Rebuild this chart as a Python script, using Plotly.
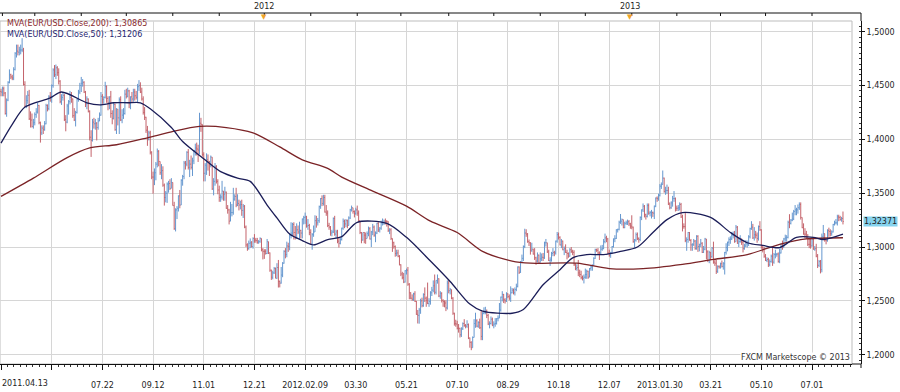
import plotly.graph_objects as go

# ---------------- DATA (EUR/USD daily, prices in pips above 1.0000) ----------------
close_pips = [
    # 2011 Apr (from 04.13)
    4440, 4470, 4430, 4240, 4365, 4530, 4600, 4580, 4570, 4650, 4800, 4820, 4810,
    # 2011 May
    4830, 4830, 4830, 4510, 4310, 4360, 4410, 4190, 4180, 4120, 4155, 4230, 4255, 4315, 4155, 4060, 4105, 4090, 4145, 4315, 4285, 4400,
    # 2011 Jun
    4395, 4500, 4645, 4600, 4665, 4620, 4540, 4350, 4390, 4410, 4185, 4160, 4310, 4350, 4390, 4375, 4220, 4180, 4250, 4370, 4440, 4500,
    # 2011 Jul
    4520, 4530, 4440, 4330, 4375, 4260, 4020, 3990, 4160, 4145, 4150, 4110, 4170, 4225, 4400, 4370, 4390, 4495, 4380, 4340, 4395,
    # 2011 Aug
    4240, 4195, 4325, 4090, 4280, 4200, 4370, 4180, 4225, 4240, 4420, 4400, 4450, 4330, 4395, 4375, 4440, 4405, 4390, 4490, 4500, 4440, 4375,
    # 2011 Sep
    4250, 4205, 4085, 4000, 4060, 3880, 3650, 3650, 3690, 3770, 3890, 3795, 3690, 3710, 3575, 3460, 3500, 3585, 3590, 3545, 3600, 3385,
    # 2011 Oct
    3170, 3345, 3360, 3475, 3390, 3620, 3655, 3780, 3770, 3880, 3740, 3770, 3740, 3800, 3895, 3920, 3910, 3900, 4150, 4140, 3860,
    # 2011 Nov
    3685, 3760, 3810, 3790, 3765, 3835, 3540, 3610, 3750, 3610, 3530, 3460, 3465, 3520, 3490, 3510, 3360, 3345, 3240, 3320, 3320, 3445,
    # 2011 Dec
    3470, 3390, 3405, 3390, 3395, 3340, 3380, 3185, 3020, 2985, 3035, 3040, 3005, 3080, 3065, 3060, 3045, 3050, 3080, 2975, 2960, 2960,
    # 2012 Jan
    2940, 3050, 2945, 2785, 2720, 2760, 2800, 2710, 2810, 2680, 2665, 2740, 2850, 2960, 2930, 3010, 3005, 3110, 3130, 3210, 3135, 3085,
    # 2012 Feb
    3160, 3140, 3155, 3130, 3260, 3275, 3280, 3195, 3200, 3135, 3030, 3115, 3140, 3245, 3225, 3245, 3375, 3450, 3405, 3460, 3325,
    # 2012 Mar
    3315, 3200, 3185, 3130, 3140, 3265, 3120, 3140, 3055, 3035, 3070, 3175, 3240, 3215, 3245, 3200, 3270, 3345, 3365, 3330, 3310, 3345,
    # 2012 Apr
    3315, 3245, 3135, 3065, 3135, 3110, 3080, 3125, 3170, 3075, 3140, 3185, 3110, 3130, 3220, 3160, 3175, 3225, 3230, 3240, 3235,
    # 2012 May
    3235, 3155, 3160, 3080, 3040, 3005, 2940, 2945, 2915, 2835, 2750, 2715, 2675, 2780, 2785, 2655, 2575, 2525, 2515, 2565, 2495, 2375, 2365,
    # 2012 Jun
    2415, 2500, 2455, 2560, 2525, 2505, 2475, 2495, 2575, 2600, 2640, 2580, 2690, 2705, 2545, 2570, 2505, 2495, 2480, 2435, 2665,
    # 2012 Jul
    2595, 2605, 2525, 2385, 2290, 2285, 2245, 2245, 2185, 2240, 2290, 2270, 2265, 2280, 2155, 2115, 2065, 2160, 2290, 2315, 2265, 2300,
    # 2012 Aug
    2250, 2170, 2385, 2400, 2405, 2365, 2285, 2290, 2330, 2275, 2285, 2290, 2335, 2340, 2415, 2535, 2560, 2510, 2500, 2565, 2540, 2525, 2575,
    # 2012 Sep
    2600, 2575, 2605, 2635, 2815, 2765, 2860, 2895, 3005, 3130, 3120, 3050, 3040, 2970, 2980, 2935, 2900, 2870, 2925, 2855,
    # 2012 Oct
    2890, 2905, 2900, 3040, 3040, 2955, 2875, 2880, 2940, 2950, 2945, 3055, 3115, 3090, 3020, 3055, 2975, 2985, 2950, 2940, 2915, 2975, 2960,
    # 2012 Nov
    2950, 2835, 2800, 2810, 2760, 2745, 2715, 2710, 2720, 2745, 2775, 2720, 2800, 2815, 2830, 2895, 2975, 2970, 2945, 2945, 2980, 2985,
    # 2012 Dec
    3050, 3085, 3075, 2945, 2925, 2945, 3005, 3075, 3080, 3160, 3165, 3230, 3240, 3255, 3180, 3220, 3225, 3235, 3215, 3195,
    # 2013 Jan
    3185, 3050, 3065, 3115, 3080, 3070, 3275, 3345, 3380, 3300, 3285, 3385, 3315, 3320, 3320, 3315, 3380, 3455, 3450, 3480, 3565, 3580,
    # 2013 Feb
    3640, 3515, 3525, 3525, 3400, 3365, 3410, 3450, 3450, 3360, 3360, 3365, 3395, 3280, 3190, 3190, 3060, 3070, 3135, 3060,
    # 2013 Mar
    3020, 3025, 3055, 2985, 3100, 3005, 3025, 3035, 2950, 2980, 3075, 2955, 2875, 2950, 2910, 2990, 2860, 2850, 2775, 2820, 2815,
    # 2013 Apr
    2845, 2820, 2845, 2950, 2995, 3045, 3070, 3075, 3110, 3110, 3050, 3185, 3035, 3050, 3055, 3045, 2985, 3010, 3030, 3030, 3095, 3170,
    # 2013 May
    3185, 3085, 3115, 3110, 3080, 3190, 3160, 2995, 2975, 2915, 2875, 2885, 2835, 2865, 2915, 2860, 2930, 2930, 2935, 2865, 2945, 3005, 2995,
    # 2013 Jun
    3075, 3085, 3090, 3230, 3220, 3250, 3260, 3330, 3345, 3345, 3365, 3395, 3275, 3180, 3120, 3120, 3090, 3025, 3025, 3010,
    # 2013 Jul
    3075, 2980, 2985, 2915, 2830, 2865, 2790, 3100, 3125, 3065, 3060, 3155, 3145, 3125, 3140, 3210, 3225, 3225, 3280, 3275, 3255, 3265, 3237,
]

high_pips = [
    4470, 4490, 4490, 4440, 4380, 4540, 4650, 4610, 4600, 4670, 4810, 4880, 4880,
    4860, 4880, 4940, 4850, 4540, 4410, 4450, 4460, 4260, 4240, 4190, 4250, 4290, 4340, 4320, 4165, 4130, 4130, 4170, 4330, 4325, 4410,
    4440, 4510, 4660, 4690, 4695, 4680, 4660, 4550, 4420, 4440, 4420, 4225, 4330, 4365, 4450, 4440, 4380, 4290, 4265, 4380, 4460, 4525,
    4580, 4560, 4540, 4450, 4400, 4380, 4270, 4085, 4190, 4200, 4190, 4160, 4200, 4250, 4440, 4420, 4400, 4535, 4500, 4400, 4400,
    4450, 4270, 4340, 4330, 4290, 4260, 4390, 4400, 4280, 4290, 4460, 4470, 4480, 4460, 4400, 4440, 4470, 4470, 4450, 4515, 4550, 4530, 4480,
    4400, 4300, 4210, 4125, 4080, 4080, 3890, 3700, 3730, 3790, 3915, 3900, 3795, 3770, 3750, 3590, 3520, 3600, 3615, 3630, 3640, 3600,
    3420, 3360, 3380, 3480, 3530, 3630, 3670, 3800, 3800, 3890, 3910, 3810, 3850, 3830, 3900, 3960, 3970, 3950, 4247, 4200, 4140,
    3880, 3780, 3870, 3860, 3800, 3850, 3820, 3640, 3780, 3760, 3630, 3570, 3490, 3615, 3520, 3560, 3515, 3390, 3355, 3420, 3400, 3550,
    3490, 3550, 3490, 3440, 3430, 3440, 3400, 3390, 3200, 3035, 3060, 3080, 3055, 3090, 3120, 3085, 3085, 3065, 3090, 3080, 2990, 2980,
    2980, 3075, 3050, 2950, 2790, 2780, 2815, 2810, 2850, 2880, 2690, 2815, 2860, 2970, 2990, 3050, 3040, 3130, 3230, 3225, 3230, 3195,
    3220, 3200, 3235, 3160, 3265, 3290, 3320, 3290, 3260, 3215, 3165, 3130, 3200, 3295, 3290, 3270, 3385, 3455, 3480, 3485, 3485,
    3390, 3340, 3225, 3195, 3160, 3275, 3290, 3160, 3160, 3090, 3090, 3180, 3265, 3255, 3260, 3255, 3285, 3355, 3385, 3360, 3340, 3365,
    3385, 3340, 3245, 3140, 3135, 3140, 3135, 3145, 3190, 3185, 3150, 3215, 3200, 3145, 3225, 3230, 3185, 3245, 3265, 3255, 3265,
    3250, 3240, 3175, 3175, 3075, 3050, 3015, 2975, 2975, 2925, 2840, 2770, 2760, 2785, 2800, 2815, 2665, 2580, 2560, 2575, 2590, 2500, 2415,
    2435, 2520, 2530, 2570, 2625, 2540, 2670, 2525, 2590, 2630, 2690, 2745, 2690, 2745, 2710, 2590, 2580, 2515, 2505, 2505, 2690,
    2690, 2620, 2605, 2535, 2390, 2325, 2315, 2285, 2250, 2255, 2300, 2330, 2285, 2320, 2290, 2160, 2125, 2170, 2330, 2390, 2330, 2310,
    2335, 2405, 2395, 2440, 2445, 2420, 2380, 2310, 2355, 2345, 2310, 2340, 2340, 2365, 2480, 2540, 2590, 2565, 2525, 2580, 2570, 2560, 2635,
    2620, 2615, 2625, 2660, 2820, 2820, 2870, 2930, 3015, 3170, 3165, 3130, 3070, 3045, 3040, 2985, 2990, 2910, 2950, 2930,
    2950, 2940, 2945, 3050, 3075, 3020, 2975, 2905, 2955, 2990, 2965, 3060, 3140, 3135, 3100, 3075, 3060, 3005, 3025, 2975, 2950, 2990, 3000,
    2975, 2970, 2850, 2840, 2880, 2790, 2780, 2735, 2745, 2800, 2790, 2780, 2805, 2830, 2840, 2905, 2985, 2985, 2990, 2960, 3015, 3020,
    3075, 3125, 3105, 3085, 2975, 2955, 3010, 3080, 3110, 3165, 3170, 3245, 3307, 3265, 3255, 3235, 3245, 3255, 3250, 3225,
    3295, 3190, 3075, 3135, 3135, 3090, 3285, 3350, 3405, 3390, 3310, 3405, 3405, 3335, 3345, 3330, 3385, 3460, 3470, 3495, 3585, 3600,
    3711, 3645, 3560, 3580, 3560, 3415, 3425, 3475, 3520, 3460, 3385, 3390, 3415, 3410, 3300, 3220, 3320, 3090, 3140, 3140,
    3075, 3035, 3075, 3065, 3110, 3110, 3030, 3075, 3045, 3010, 3085, 3010, 2970, 2965, 2955, 3000, 3050, 2885, 2880, 2830, 2830,
    2855, 2875, 2860, 2955, 3035, 3050, 3090, 3100, 3140, 3145, 3150, 3205, 3195, 3085, 3110, 3080, 3055, 3030, 3065, 3060, 3110, 3180,
    3240, 3215, 3185, 3150, 3135, 3200, 3240, 3165, 3015, 3000, 2935, 2905, 2900, 2885, 2930, 2995, 2945, 2975, 2945, 2950, 2985, 3035, 3060,
    3085, 3115, 3110, 3245, 3305, 3260, 3320, 3345, 3390, 3365, 3395, 3415, 3415, 3275, 3220, 3175, 3150, 3120, 3075, 3080,
    3085, 3080, 3010, 3030, 2935, 2880, 2880, 3125, 3205, 3120, 3075, 3165, 3180, 3165, 3155, 3215, 3245, 3260, 3300, 3300, 3290, 3280, 3330,
]

low_pips = [
    4400, 4400, 4400, 4230, 4210, 4355, 4520, 4560, 4550, 4550, 4640, 4760, 4780,
    4780, 4790, 4810, 4500, 4300, 4290, 4330, 4180, 4110, 4110, 4100, 4130, 4200, 4240, 4140, 3970, 4040, 4050, 4080, 4140, 4260, 4270,
    4350, 4340, 4480, 4580, 4560, 4590, 4510, 4335, 4320, 4360, 4170, 4075, 4150, 4230, 4325, 4340, 4200, 4170, 4120, 4240, 4350, 4420,
    4440, 4490, 4430, 4300, 4280, 4250, 3990, 3837, 3980, 4100, 4090, 3990, 4090, 4170, 4220, 4330, 4330, 4380, 4340, 4270, 4280,
    4200, 4140, 4185, 4080, 4050, 4130, 4050, 4170, 4150, 4190, 4230, 4380, 4390, 4290, 4280, 4340, 4350, 4360, 4370, 4340, 4450, 4430, 4360,
    4230, 4180, 4060, 3940, 3990, 3860, 3630, 3495, 3575, 3620, 3740, 3750, 3670, 3630, 3560, 3385, 3415, 3410, 3505, 3530, 3555, 3385,
    3160, 3145, 3260, 3330, 3360, 3410, 3570, 3630, 3720, 3750, 3720, 3650, 3720, 3660, 3770, 3850, 3850, 3790, 3860, 4070, 3840,
    3610, 3610, 3670, 3710, 3660, 3740, 3530, 3480, 3570, 3590, 3490, 3420, 3420, 3440, 3430, 3430, 3355, 3310, 3210, 3290, 3285, 3300,
    3430, 3370, 3380, 3340, 3350, 3290, 3270, 3175, 3000, 2965, 2975, 2990, 2995, 2985, 3040, 3040, 3030, 3030, 3040, 2960, 2885, 2890,
    2930, 2935, 2935, 2770, 2695, 2700, 2750, 2710, 2705, 2624, 2625, 2660, 2720, 2845, 2895, 2905, 2955, 2970, 3080, 3105, 3070, 3070,
    3075, 3120, 3070, 3080, 3080, 3210, 3215, 3180, 3160, 3110, 3020, 2975, 3095, 3140, 3180, 3200, 3225, 3355, 3380, 3385, 3320,
    3290, 3185, 3160, 3105, 3100, 3130, 3105, 3080, 3035, 2995, 3025, 3060, 3160, 3175, 3185, 3175, 3200, 3260, 3330, 3310, 3275, 3300,
    3290, 3230, 3120, 3035, 3060, 3035, 3030, 3080, 3100, 3070, 3000, 3110, 3095, 3045, 3120, 3140, 3135, 3160, 3200, 3205, 3210,
    3190, 3140, 3120, 3065, 2955, 2985, 2910, 2915, 2905, 2830, 2730, 2700, 2665, 2670, 2745, 2640, 2515, 2515, 2500, 2500, 2490, 2370, 2290,
    2288, 2380, 2440, 2445, 2490, 2445, 2470, 2445, 2465, 2545, 2580, 2560, 2560, 2660, 2535, 2520, 2485, 2445, 2440, 2405, 2420,
    2570, 2560, 2515, 2370, 2270, 2260, 2235, 2205, 2160, 2165, 2230, 2260, 2245, 2250, 2145, 2065, 2042, 2065, 2160, 2250, 2255, 2250,
    2240, 2135, 2135, 2375, 2375, 2340, 2275, 2245, 2280, 2265, 2245, 2260, 2280, 2310, 2340, 2400, 2495, 2480, 2475, 2490, 2525, 2505, 2490,
    2570, 2560, 2550, 2590, 2625, 2750, 2760, 2850, 2870, 2990, 3095, 3040, 3010, 2930, 2955, 2930, 2880, 2835, 2855, 2845,
    2860, 2870, 2870, 2890, 3005, 2945, 2870, 2825, 2865, 2915, 2915, 2930, 3040, 3070, 3015, 2990, 2970, 2925, 2945, 2885, 2900, 2910, 2945,
    2925, 2825, 2785, 2780, 2730, 2720, 2700, 2690, 2662, 2705, 2705, 2705, 2730, 2780, 2780, 2825, 2890, 2955, 2930, 2880, 2935, 2965,
    2980, 3035, 3045, 2935, 2910, 2900, 2935, 2995, 3045, 3075, 3135, 3155, 3215, 3200, 3175, 3175, 3205, 3205, 3195, 3170,
    3165, 3040, 2995, 3050, 3065, 3040, 3055, 3250, 3325, 3275, 3255, 3275, 3300, 3285, 3265, 3280, 3260, 3370, 3420, 3430, 3470, 3540,
    3580, 3505, 3485, 3495, 3390, 3350, 3355, 3375, 3420, 3330, 3335, 3335, 3340, 3270, 3145, 3170, 3045, 2965, 3040, 3060,
    2965, 2965, 3010, 2975, 2975, 2955, 2960, 3000, 2945, 2945, 2970, 2885, 2860, 2850, 2880, 2900, 2845, 2825, 2750, 2760, 2800,
    2800, 2810, 2790, 2745, 2930, 2960, 3010, 3030, 3065, 3080, 3040, 3050, 3030, 3000, 3040, 3020, 2950, 2975, 3000, 2995, 3010, 3080,
    3160, 3075, 3060, 3080, 3040, 3060, 3150, 2985, 2950, 2900, 2870, 2860, 2815, 2820, 2855, 2825, 2845, 2895, 2910, 2855, 2850, 2940, 2975,
    3000, 3050, 3050, 3080, 3175, 3210, 3240, 3250, 3295, 3295, 3310, 3345, 3255, 3175, 3115, 3080, 3075, 3010, 2990, 2985,
    3005, 2975, 2965, 2905, 2805, 2815, 2755, 2765, 3080, 3050, 3025, 3050, 3095, 3100, 3105, 3135, 3200, 3210, 3200, 3240, 3245, 3235, 3210,
]
first_open_pips = 4445

# Moving averages (bar index -> value)
ma200_bars = [0, 23, 47, 63, 82, 104, 121, 141, 160, 179, 198, 214, 232, 242, 264, 288, 305, 324, 342, 363,
              376, 409, 432, 456, 484, 506, 530, 553, 572, 598]
ma200_vals = [1.347, 1.364, 1.383, 1.392, 1.395, 1.4015, 1.407, 1.412, 1.411, 1.406, 1.393, 1.381, 1.373, 1.365,
              1.352, 1.338, 1.324, 1.3135, 1.296, 1.287, 1.285, 1.285, 1.280, 1.280, 1.284, 1.2885, 1.293, 1.3025,
              1.3075, 1.30865]
ma50_bars = [0, 8, 17, 35, 43, 61, 70, 80, 90, 99, 106, 121, 129, 143, 156, 168, 177, 189, 196, 205, 214, 222,
             232, 242, 253, 274, 288, 305, 319, 333, 342, 363, 371, 385, 397, 406, 416, 428, 440, 452, 463, 473,
             484, 504, 518, 530, 541, 553, 565, 577, 584, 598]
ma50_vals = [1.3965, 1.414, 1.430, 1.4385, 1.444, 1.434, 1.432, 1.434, 1.434, 1.434, 1.4285, 1.411, 1.398, 1.383,
             1.370, 1.364, 1.361, 1.339, 1.327, 1.312, 1.306, 1.302, 1.307, 1.3097, 1.323, 1.322, 1.309, 1.287,
             1.268, 1.247, 1.2405, 1.2385, 1.242, 1.265, 1.279, 1.290, 1.293, 1.293, 1.296, 1.300, 1.3135, 1.3255,
             1.332, 1.3275, 1.3135, 1.304, 1.3015, 1.2995, 1.309, 1.309, 1.307, 1.31206]

# Axis ticks
date_tick_bars = [0, 36, 72, 108, 144, 180, 216, 252, 288, 324, 360, 396, 432, 468, 504, 540, 576]
date_tick_text = ["", "", "07.22", "09.12", "11.01", "12.21", "2012.02.09", "03.30", "05.21", "07.10",
                  "08.29", "10.18", "12.07", "2013.01.30", "03.21", "05.10", "07.01"]
first_date_label = "2011.04.13"
top_tick_bars = [1, 24, 57, 89, 122, 155, 187, 220, 253, 284, 318, 350, 383, 415, 448, 480, 511, 543, 576]
year_marker_bars = [186.5, 446.5]
year_marker_text = ["2012", "2013"]
price_ticks = [1.20, 1.25, 1.30, 1.35, 1.40, 1.45, 1.50]
price_tick_text = ["1,2000", "1,2500", "1,3000", "1,3500", "1,4000", "1,4500", "1,5000"]
last_price = 1.32371
last_price_text = "1,32371"
ma200_label = "MVA(EUR/USD.Close,200): 1,30865"
ma50_label = "MVA(EUR/USD.Close,50): 1,31206"
credit = "FXCM Marketscope © 2013"

# ---------------- BUILD ----------------
bars = list(range(len(close_pips)))
closes = [1 + v / 10000 for v in close_pips]
opens = [1 + first_open_pips / 10000] + closes[:-1]
highs = [max(1 + h / 10000, o, c) for h, o, c in zip(high_pips, opens, closes)]
lows = [min(1 + l / 10000, o, c) for l, o, c in zip(low_pips, opens, closes)]

W, H = 900, 392
M_L, M_R, M_T, M_B = 0, 39, 21, 28
PW = W - M_L - M_R          # 861
PH = H - M_T - M_B          # 343
FRAME_R = 852 / PW


def py(pix_y):
    return (H - M_B - pix_y) / PH


def px(pix_x):
    return (pix_x - M_L) / PW


FONT = "DejaVu Sans"
TXT = "#1e1e1e"

fig = go.Figure()
fig.add_trace(go.Ohlc(
    x=bars, open=opens, high=highs, low=lows, close=closes,
    increasing=dict(line=dict(color="#6597cf", width=1)),
    decreasing=dict(line=dict(color="#c4636b", width=1)),
    tickwidth=0.5, hoverinfo="skip", showlegend=False,
))
fig.add_trace(go.Scatter(
    x=ma200_bars, y=ma200_vals, mode="lines", line=dict(color="#7b2326", width=1.3, shape="spline", smoothing=0.8),
    hoverinfo="skip", showlegend=False,
))
fig.add_trace(go.Scatter(
    x=ma50_bars, y=ma50_vals, mode="lines", line=dict(color="#1b1d58", width=1.3, shape="spline", smoothing=0.8),
    hoverinfo="skip", showlegend=False,
))

x0 = -0.71
x1 = x0 + 852 / 1.408
ymax = 1.50994
ymin = ymax - PH / 1076.7

fig.update_layout(
    template="none",
    width=W, height=H,
    margin=dict(l=M_L, r=M_R, t=M_T, b=M_B, pad=0, autoexpand=False),
    paper_bgcolor="white", plot_bgcolor="white",
    font=dict(family=FONT, size=8, color=TXT),
    showlegend=False,
    hovermode=False,
    xaxis=dict(
        domain=[0, FRAME_R], range=[x0, x1], rangeslider=dict(visible=False), automargin=False,
        tickmode="array", tickvals=date_tick_bars, ticktext=date_tick_text,
        showgrid=True, gridcolor="#d6d6d6", gridwidth=1, zeroline=False,
        showline=True, linecolor="#111", linewidth=1,
        ticks="outside", ticklen=5, tickcolor="#111", tickwidth=1, ticklabelstandoff=8,
        tickfont=dict(family=FONT, size=8, color=TXT),
        minor=dict(tickmode="linear", tick0=0, dtick=4.5, ticks="outside", ticklen=2, tickcolor="#333", showgrid=False),
    ),
    yaxis=dict(
        range=[ymin, ymax], anchor="free", position=1, side="right", automargin=False,
        tickmode="array", tickvals=price_ticks, ticktext=price_tick_text,
        showgrid=True, gridcolor="#d6d6d6", gridwidth=1, zeroline=False,
        showline=True, linecolor="#111", linewidth=1,
        ticks="outside", ticklen=3, tickcolor="#111", tickwidth=1,
        tickfont=dict(family=FONT, size=8, color=TXT),
        minor=dict(tickmode="linear", tick0=1.2, dtick=0.005, ticks="inside", ticklen=2, tickcolor="#333", showgrid=False),
    ),
)

shapes = [
    # plot frame
    dict(type="rect", xref="paper", yref="paper", x0=0, x1=FRAME_R, y0=0, y1=1,
         line=dict(color="#bdbdbd", width=1), fillcolor="rgba(0,0,0,0)", layer="below"),
    # top axis line
    dict(type="line", xref="paper", yref="paper", x0=0, x1=1, y0=py(13), y1=py(13), line=dict(color="#111", width=1)),
    # right axis extension (top and bottom)
    dict(type="line", xref="paper", yref="paper", x0=1, x1=1, y0=1, y1=py(13), line=dict(color="#111", width=1)),
    dict(type="line", xref="paper", yref="paper", x0=1, x1=1, y0=0, y1=py(368), line=dict(color="#111", width=1)),
    # bottom axis extension to the right axis
    dict(type="line", xref="paper", yref="paper", x0=FRAME_R, x1=1, y0=0, y1=0, line=dict(color="#111", width=1)),
]
for b in top_tick_bars:
    shapes.append(dict(type="line", xref="x", yref="paper", x0=b, x1=b, y0=py(13), y1=py(16),
                       line=dict(color="#111", width=1)))
fig.update_layout(shapes=shapes)

ann = [
    dict(text=ma200_label, xref="paper", yref="paper", x=px(5), y=py(24), xanchor="left", yanchor="middle",
         showarrow=False, font=dict(family=FONT, size=8, color="#8a2a2e")),
    dict(text=ma50_label, xref="paper", yref="paper", x=px(5), y=py(34.5), xanchor="left", yanchor="middle",
         showarrow=False, font=dict(family=FONT, size=8, color="#1f2670")),
    dict(text=first_date_label, xref="paper", yref="paper", x=px(0), y=py(383), xanchor="left", yanchor="middle",
         showarrow=False, font=dict(family=FONT, size=8, color=TXT)),
    dict(text=last_price_text, xref="paper", yref="y", x=px(863), y=last_price,
         xanchor="left", yanchor="middle", showarrow=False, bgcolor="#86d3ee", borderpad=0,
         font=dict(family=FONT, size=8, color=TXT)),
    dict(text=credit, xref="paper", yref="paper", x=px(851), y=py(357.5), xanchor="right", yanchor="middle",
         showarrow=False, bgcolor="white", borderpad=0, font=dict(family=FONT, size=8, color="#333")),
]
for b, t in zip(year_marker_bars, year_marker_text):
    ann.append(dict(text=t, xref="x", yref="paper", x=b, y=py(6), xanchor="center", yanchor="middle",
                    showarrow=False, font=dict(family=FONT, size=8, color=TXT)))
    ann.append(dict(text="▼", xref="x", yref="paper", x=b, y=py(17), xanchor="center", yanchor="middle",
                    showarrow=False, font=dict(family=FONT, size=7, color="#f0a428")))
fig.update_layout(annotations=ann)

fig.write_html(
    "out.html",
    config={"displayModeBar": False, "staticPlot": True},
    post_script="document.body.style.margin='0';document.body.style.padding='0';document.body.style.overflow='hidden';",
)
